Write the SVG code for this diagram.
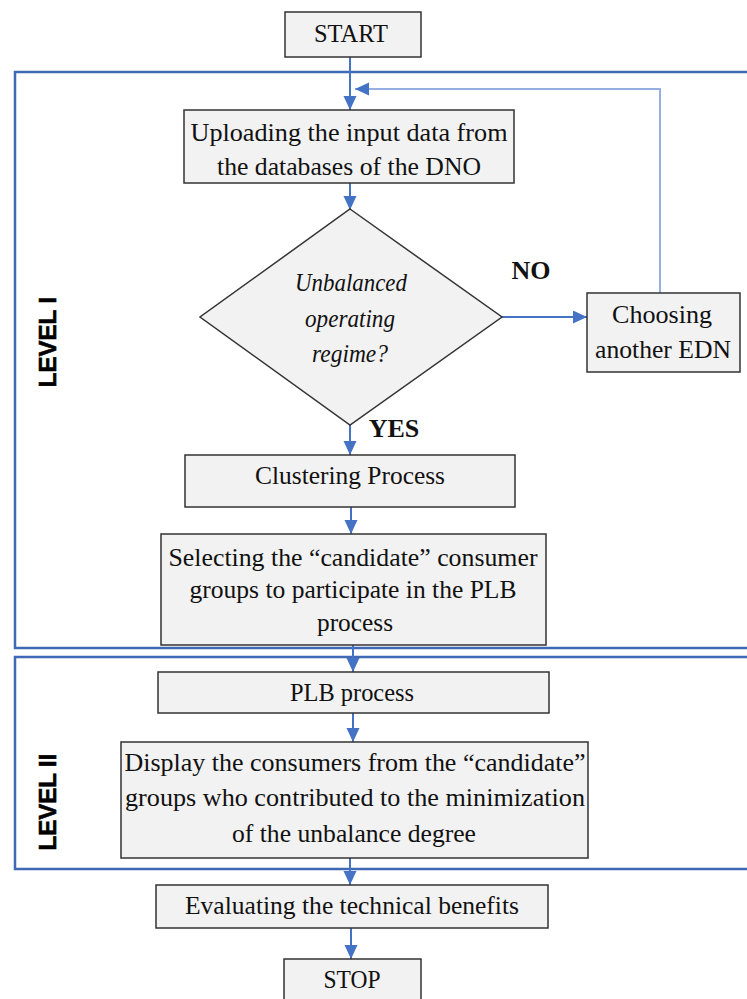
<svg xmlns="http://www.w3.org/2000/svg" width="747" height="999" viewBox="0 0 747 999">
<style>
.box{fill:#f2f2f2;stroke:#333;stroke-width:1.5}
.t{font-family:"Liberation Serif","Times New Roman",serif;font-size:26px;fill:#111;text-anchor:middle}
.it{font-style:italic}
.b{font-weight:bold}
.lvl{font-family:"Liberation Sans",Arial,sans-serif;font-weight:bold;font-size:24px;fill:#000;text-anchor:middle;stroke:#000;stroke-width:0.6}
.frame{fill:none;stroke:#3f68b5;stroke-width:2.5}
.c{fill:none;stroke:#4472c4;stroke-width:2}
.fb{fill:none;stroke:#94afe0;stroke-width:2}
</style>
<defs>
<marker id="ah" markerUnits="userSpaceOnUse" markerWidth="14" markerHeight="14" refX="14" refY="6.5" orient="auto">
<path d="M0,0 L14,6.5 L0,13 z" fill="#4472c4"/>
</marker>
</defs>

<g id="frames">
<rect id="level1-frame" class="frame" x="15" y="72" width="760" height="576"/>
<rect id="level2-frame" class="frame" x="15" y="657" width="760" height="212"/>
<text class="lvl" transform="translate(56,342) rotate(-90)">LEVEL I</text>
<text class="lvl" transform="translate(56,802) rotate(-90)">LEVEL II</text>
</g>

<g id="connectors">
<line class="c" x1="350" y1="57" x2="350" y2="110" marker-end="url(#ah)"/>
<polyline class="fb" points="660,293 660,89 355,89" marker-end="url(#ah)"/>
<line class="c" x1="350" y1="183" x2="350" y2="210" marker-end="url(#ah)"/>
<line class="c" x1="502" y1="317" x2="587" y2="317" stroke-width="3" marker-end="url(#ah)"/>
<line class="c" x1="350" y1="425" x2="350" y2="455" marker-end="url(#ah)"/>
<line class="c" x1="351" y1="507" x2="351" y2="534" marker-end="url(#ah)"/>
<line class="c" x1="353" y1="645" x2="353" y2="672" marker-end="url(#ah)"/>
<line class="c" x1="353" y1="713" x2="353" y2="742" marker-end="url(#ah)"/>
<line class="c" x1="350" y1="858" x2="350" y2="885" marker-end="url(#ah)"/>
<line class="c" x1="351" y1="928" x2="351" y2="959" marker-end="url(#ah)"/>
<text class="t b" x="531" y="279" font-size="21">NO</text>
<text class="t b" x="394" y="437" font-size="21">YES</text>
</g>

<g id="start">
<rect class="box" x="285" y="12" width="136" height="45"/>
<text class="t" x="351" y="42" textLength="74" lengthAdjust="spacingAndGlyphs">START</text>
</g>

<g id="upload">
<rect class="box" x="184" y="110" width="330" height="73"/>
<text class="t" x="349" y="141" textLength="317" lengthAdjust="spacingAndGlyphs">Uploading the input data from</text>
<text class="t" x="349" y="175" textLength="264" lengthAdjust="spacingAndGlyphs">the databases of the DNO</text>
</g>

<g id="decision">
<polygon class="box" points="350,209 502,317 350,425 200,317"/>
<text class="t it" x="351" y="291" textLength="112" lengthAdjust="spacingAndGlyphs">Unbalanced</text>
<text class="t it" x="350" y="327" textLength="90" lengthAdjust="spacingAndGlyphs">operating</text>
<text class="t it" x="350" y="362" textLength="76" lengthAdjust="spacingAndGlyphs">regime?</text>
</g>

<g id="choosing">
<rect class="box" x="587" y="293" width="153" height="79"/>
<text class="t" x="662" y="323" textLength="100" lengthAdjust="spacingAndGlyphs">Choosing</text>
<text class="t" x="663" y="358" textLength="136" lengthAdjust="spacingAndGlyphs">another EDN</text>
</g>

<g id="clustering">
<rect class="box" x="185" y="455" width="330" height="52"/>
<text class="t" x="350" y="484" textLength="190" lengthAdjust="spacingAndGlyphs">Clustering Process</text>
</g>

<g id="selecting">
<rect class="box" x="161" y="534" width="385" height="111"/>
<text class="t" x="353" y="566" textLength="369" lengthAdjust="spacingAndGlyphs">Selecting the “candidate” consumer</text>
<text class="t" x="353" y="598" textLength="327" lengthAdjust="spacingAndGlyphs">groups to participate in the PLB</text>
<text class="t" x="355" y="631" textLength="76" lengthAdjust="spacingAndGlyphs">process</text>
</g>

<g id="plb">
<rect class="box" x="158" y="672" width="391" height="41"/>
<text class="t" x="352" y="701" textLength="124" lengthAdjust="spacingAndGlyphs">PLB process</text>
</g>

<g id="display">
<rect class="box" x="121" y="742" width="467" height="116"/>
<text class="t" x="355" y="771" textLength="461" lengthAdjust="spacingAndGlyphs">Display the consumers from the “candidate”</text>
<text class="t" x="355" y="806" textLength="460" lengthAdjust="spacingAndGlyphs">groups who contributed to the minimization</text>
<text class="t" x="354" y="842" textLength="244" lengthAdjust="spacingAndGlyphs">of the unbalance degree</text>
</g>

<g id="evaluating">
<rect class="box" x="156" y="885" width="392" height="43"/>
<text class="t" x="352" y="914" textLength="334" lengthAdjust="spacingAndGlyphs">Evaluating the technical benefits</text>
</g>

<g id="stop">
<rect class="box" x="284" y="959" width="137" height="45"/>
<text class="t" x="352" y="988" textLength="57" lengthAdjust="spacingAndGlyphs">STOP</text>
</g>
</svg>
